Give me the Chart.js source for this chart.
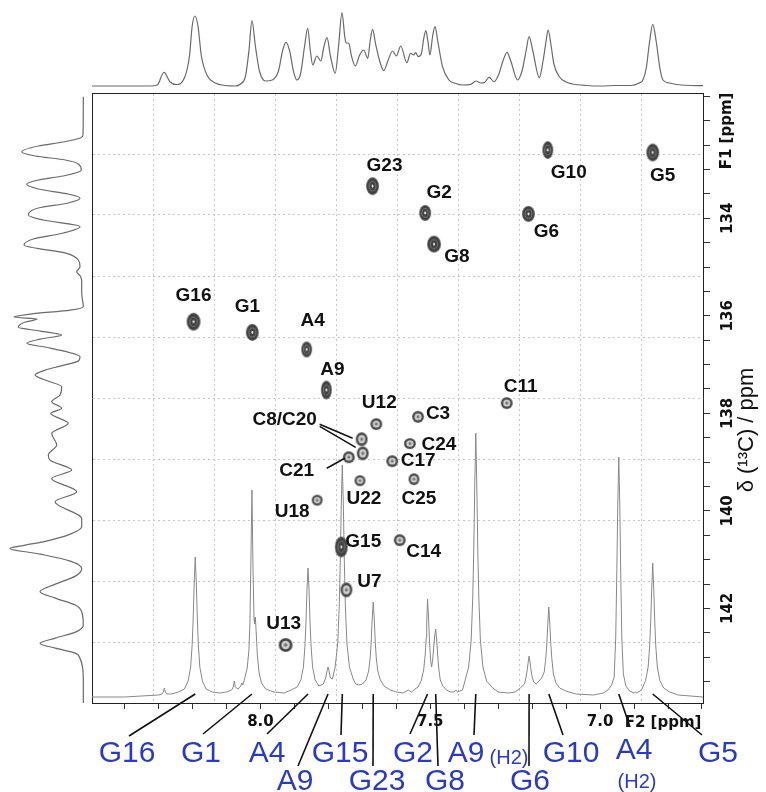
<!DOCTYPE html>
<html>
<head>
<meta charset="utf-8">
<script src="https://cdn.jsdelivr.net/npm/chart.js@4.4.1/dist/chart.umd.min.js"></script>
<style>
  html, body { margin: 0; padding: 0; background: #fff; }
  #wrap { position: relative; width: 766px; height: 792px; overflow: hidden; }
  canvas { position: absolute; }
  #main { left: 0; top: 0; }
  #top { left: 92px; top: 1px; }
  #side { left: 0; top: 93px; }
</style>
</head>
<body>
<div id="wrap">
  <canvas id="main" width="766" height="792"></canvas>
  <canvas id="top" width="611" height="86"></canvas>
  <canvas id="side" width="92" height="610"></canvas>
</div>
<script>
// Axis ranges: F2 = 1H (ppm), F1 = 13C (ppm)
const H_MIN = 6.697, H_MAX = 8.496;
const C_MIN = 131.43, C_MAX = 143.94;

// Tick labels
const xLabelTicks = [8.0, 7.5, 7.0];
const yLabelTicks = [134, 136, 138, 140, 142];

// HSQC cross peaks: assignment, 1H shift, 13C shift
const peakNames = ['G10','G5','G23','G2','G6','G8','G16','G1','A4','A9','C11','C3','U12','C8','C20','C21','C24','C17','C25','U22','U18','C14','G15','U7','U13'];
const peakH = [7.154,6.845,7.670,7.515,7.211,7.489,8.197,8.024,7.864,7.806,7.275,7.536,7.659,7.702,7.699,7.740,7.560,7.612,7.548,7.707,7.833,7.590,7.762,7.747,7.926];
const peakC = [132.60,132.65,133.34,133.89,133.91,134.53,136.12,136.34,136.69,137.52,137.79,138.07,138.22,138.53,138.82,138.90,138.62,138.98,139.35,139.38,139.78,140.60,140.74,141.62,142.75];

// 1D 1H spectrum [ppm, intensity]
const specPoints = [
[8.496,1],[8.40,1],[8.30,3],[8.29,4],[8.286,6],[8.283,10],[8.280,6],[8.276,4],[8.262,4],
[8.242,6],[8.224,9],[8.213,17],[8.2055,31],[8.201,54],[8.198,81],[8.195,116],[8.192,141],[8.189,116],[8.186,81],[8.183,54],[8.1785,31],[8.171,17],[8.160,9],[8.142,6],[8.12,5],
[8.10,6],[8.085,8],[8.080,11],[8.077,17],[8.074,11],[8.066,9],[8.058,12],[8.055,15],[8.052,13],[8.046,20],[8.039,30],[8.034,48],[8.031,75],[8.028,140],[8.025,208],
[8.022,130],[8.019,80],[8.017,74],[8.015,81],[8.012,62],[8.009,42],[8.004,25],[7.997,15],[7.985,9],[7.96,6],[7.93,5],
[7.910,8],[7.892,11],[7.881,18],[7.8735,31],[7.869,52],[7.866,76],[7.863,109],[7.860,130],[7.857,109],[7.854,76],[7.851,52],[7.8465,31],[7.839,18],[7.828,12],
[7.815,14],[7.808,20],[7.804,27],[7.801,31],[7.798,27],[7.794,20],[7.788,19],
[7.780,31],[7.7725,55],[7.768,92],[7.765,136],[7.762,194],[7.759,233],[7.756,194],[7.753,136],[7.750,92],[7.7455,55],[7.738,31],[7.727,19],[7.72,14],[7.71,13],
[7.700,14],[7.689,18],[7.6815,27],[7.677,40],[7.674,56],[7.671,79],[7.668,96],[7.665,79],[7.662,56],[7.659,40],[7.6545,27],[7.647,18],[7.636,12],[7.618,8],[7.60,6],[7.58,5],[7.565,8],[7.555,6],[7.545,9],[7.536,11],
[7.527,17],[7.5195,28],[7.515,43],[7.512,60],[7.5105,75],[7.508,99],[7.505,80],[7.502,55],[7.499,38],[7.496,31],[7.493,38],[7.490,50],[7.487,62],[7.484,69],[7.481,58],[7.478,42],[7.4745,28],[7.4705,18],[7.463,12],[7.452,8],[7.44,6],[7.43,6],[7.425,8],[7.42,6],[7.405,8],
[7.398,17],[7.387,31],[7.3795,58],[7.375,100],[7.372,147],[7.369,213],[7.366,265],[7.363,213],[7.360,147],[7.357,100],[7.3525,58],[7.345,31],[7.334,17],[7.316,10],[7.30,6],[7.27,5],[7.25,6],[7.235,10],
[7.2225,14],[7.218,21],[7.215,27],[7.212,35],[7.209,42],[7.206,35],[7.203,27],[7.200,21],[7.1955,16],[7.188,14],[7.18,17],
[7.172,20],[7.1645,26],[7.160,39],[7.157,53],[7.154,74],[7.151,91],[7.148,74],[7.145,53],[7.142,39],[7.1375,24],[7.130,15],[7.119,10],[7.101,7],[7.07,4],[7.02,3],[6.99,5],
[6.977,8],[6.966,13],[6.9585,21],[6.954,60],[6.951,120],[6.948,193],[6.945,241],[6.942,193],[6.939,120],[6.936,60],[6.9315,24],[6.924,12],[6.913,7],[6.90,5],[6.896,6],[6.892,5],[6.878,8],
[6.866,17.5],[6.8585,31],[6.854,52],[6.851,76],[6.848,109],[6.845,135],[6.842,109],[6.839,76],[6.836,52],[6.8315,31],[6.824,17.5],[6.813,10],[6.795,6],[6.77,3],[6.697,1]
];

// F2 projection [ppm, intensity]
const topPoints = [
[8.496,0],[8.325,0],[8.304,1],[8.284,13.7],[8.266,4],[8.248,1.5],[8.224,8],[8.209,30],[8.201,60],[8.193,70],[8.184,60],[8.174,30],[8.156,10],[8.133,3],[8.103,0.5],[8.074,0],
[8.059,2],[8.044,10],[8.034,35],[8.025,65.3],[8.015,40],[8.003,15],[7.985,5],[7.965,6],[7.947,15],[7.935,35],[7.925,43.7],[7.914,35],[7.903,15],[7.893,6],
[7.882,12],[7.870,40],[7.861,57.7],[7.853,35],[7.846,21],[7.834,30],[7.822,25],[7.814,38],[7.804,48.3],[7.794,30],[7.780,12.7],[7.770,40],[7.760,73.3],[7.752,50],
[7.748,43.3],[7.740,42.7],[7.732,30],[7.721,20],[7.708,31],[7.696,36],[7.684,27.7],[7.677,45],[7.670,56.7],[7.661,42],[7.649,25],[7.637,15.3],[7.625,25],[7.611,35],
[7.600,30],[7.587,40],[7.569,23.3],[7.558,32.7],[7.549,31],[7.543,33.3],[7.535,29.3],[7.526,32.7],[7.519,48],[7.513,55.3],[7.507,45],[7.501,31],[7.493,50],[7.486,59.3],
[7.478,45],[7.464,19.3],[7.445,6],[7.425,2.5],[7.405,1],[7.381,1.5],[7.366,5],[7.351,3],[7.341,3.3],[7.327,8.7],[7.312,4.3],[7.298,12],[7.286,25],[7.274,33.7],[7.263,25],
[7.243,6],[7.230,15],[7.218,35],[7.209,49.3],[7.198,35],[7.179,8.3],[7.168,25],[7.159,45],[7.153,56],[7.145,42],[7.136,22],[7.120,9.3],[7.100,4],[7.081,2],[7.041,0.5],
[6.997,0],[6.953,0.5],[6.909,0.5],[6.885,3],[6.874,6],[6.864,18],[6.854,45],[6.845,61.7],[6.835,45],[6.824,18],[6.815,6],[6.796,3],[6.761,1],[6.697,0.3]
];

// F1 projection [13C ppm, intensity]
const sidePoints = [
[131.506,0],[132.291,0.3],[132.353,3],[132.435,20],[132.517,45],[132.634,61.6],[132.722,48],[132.804,18],[132.886,5],[133.009,2],
[133.132,20],[133.214,45],[133.303,56.6],[133.399,45],[133.502,15],[133.590,3.3],
[133.686,15],[133.789,45],[133.932,55],[134.035,40],[134.172,3.3],
[134.302,20],[134.425,50],[134.548,59.3],[134.718,16.6],[134.855,5],[134.993,3.3],
[135.095,6.6],[135.184,3],[135.301,1.6],[135.539,1.6],[135.813,0],
[135.881,13],[135.963,53],[136.025,69.3],[136.066,46],[136.127,58],[136.236,65],[136.312,43],[136.394,21.6],[136.476,43],[136.564,56.6],[136.661,33],[136.839,3.3],
[136.927,5],[137.030,23],[137.112,38],[137.214,48.3],[137.317,38],[137.454,21.6],
[137.625,23.3],[137.762,31.6],[137.897,21.6],[138.000,32.6],[138.205,15],[138.410,31.6],[138.650,26.6],[138.855,35],[138.958,33.3],[139.163,11.6],[139.334,31.6],
[139.608,6.6],[139.813,28.3],[140.154,1.6],[140.326,1.6],[140.476,13],[140.634,40],[140.702,58],[140.769,73.3],[140.886,43],[141.030,13],[141.180,1.6],
[141.338,8],[141.502,28],[141.660,43.3],[141.789,28],[141.932,8],[142.070,1.6],[142.343,0],[142.486,8],[142.609,28],[142.718,43.3],[142.814,28],[142.917,8],
[143.025,3.3],[143.436,0],[143.943,0]
];

// Assignments of the 1D peaks shown under the spectrum (1H ppm of each peak)
const assignNames = ['G16','G1','A4','A9','G15','G23','G2','G8','A9(H2)','G6','G10','A4(H2)','G5'];
const assignPpm = [8.192,8.025,7.860,7.801,7.759,7.668,7.508,7.484,7.366,7.209,7.151,6.945,6.845];

// ---- layout / style tables ----
// contour drawing: kind and size (w, h) in px
const contourStyle = {
  G10:['solid',11,18], G5:['solid',13,18], G23:['solid',13,18], G2:['solid',12,16], G6:['solid',13,16],
  G8:['solid',14,17], G16:['solid',14,18], G1:['solid',13,17], A4:['solid',11,16], A9:['solid',11,19],
  G15:['solid',13,21], C11:['ring',12,12], C3:['ring',12,12], U12:['ring',12,12], C8:['ring',12,14],
  C20:['ring',12,14], C21:['ring',12,12], C24:['ring',12,11], C17:['ring',12,12], C25:['ring',11,12],
  U22:['ring',11,11], U18:['ring',11,11], C14:['ring',12,12], U7:['ring',12,15], U13:['ring',14,14]
};
// label offsets from each cross peak (px)
const peakLabels = {
  G10:[21,23], G5:[10,23], G23:[12,-20], G2:[14,-20], G6:[18,18], G8:[23,13], G16:[0,-26], G1:[-5,-26],
  A4:[6,-29], A9:[6,-20], C11:[14,-16], C3:[20,-3], U12:[3,-21], C8:[-77,-19,'C8/C20'], C21:[-52,14],
  C24:[29,1], C17:[26,0], C25:[5,20], U22:[4,18], U18:[-25,12], C14:[24,12], G15:[22,-5], U7:[23,-8], U13:[-2,-21]
};
// pointer lines, relative to a cross peak: [peak, x1, y1, x2, y2]
const pointers = [['C8',-42,-15,-9,-1],['C20',-43,-27,-7,-6],['C21',-22,11,-4,1]];
// bottom assignment labels: line end [x,y], text centre x / baseline y, optional sub-label
const assignLayout = {
  'G16':{end:[129,736],text:[127,762]}, 'G1':{end:[203,734],text:[201,762]},
  'A4':{end:[267,734],text:[267,762]}, 'A9':{end:[298,766],text:[295,790]},
  'G15':{end:[341,735],text:[340,762]}, 'G23':{end:[373,766],text:[377,790]},
  'G2':{end:[410,734],text:[413,762]}, 'G8':{end:[438,766],text:[445,790]},
  'A9(H2)':{end:[474,735],text:[466,762],label:'A9',sub:[509,764]},
  'G6':{end:[529,766],text:[530,790]}, 'G10':{end:[563,735],text:[571,762]},
  'A4(H2)':{end:[630,727],text:[634,759],label:'A4',sub:[637,788]},
  'G5':{end:[702,735],text:[718,762]}
};

function makeContour(kind, w, h) {
  const pad = 2;
  const c = document.createElement('canvas');
  c.width = w + pad * 2; c.height = h + pad * 2;
  const g = c.getContext('2d');
  const cx = c.width / 2, cy = c.height / 2;
  const ell = (rx, ry, fill) => { g.beginPath(); g.ellipse(cx, cy, rx, ry, 0, 0, Math.PI * 2); g.fillStyle = fill; g.fill(); };
  if (kind === 'solid') {
    ell(w / 2, h / 2, '#6e6e6e');
    ell(w / 2 - 0.8, h / 2 - 0.8, '#404040');
    g.beginPath(); g.ellipse(cx, cy, w * 0.27, h * 0.27, 0, 0, Math.PI * 2);
    g.strokeStyle = '#7c7c7c'; g.lineWidth = 1; g.stroke();
    ell(1, 1.4, '#eee');
  } else {
    ell(w / 2, h / 2, '#626262');
    ell(w / 2 - 0.8, h / 2 - 0.8, '#454545');
    ell(w * 0.3, h * 0.3, '#cfcfcf');
    ell(w * 0.12, h * 0.12, '#6e6e6e');
  }
  return c;
}
const contourImgs = peakNames.map(n => makeContour(...contourStyle[n]));

const LABEL_FONT = 'bold 19px "Liberation Sans", Arial, sans-serif';
const ASSIGN_FONT = '30px "Liberation Sans", Arial, sans-serif';
const SUB_FONT = '20px "Liberation Sans", Arial, sans-serif';
const ASSIGN_COLOR = '#2b3bbf';
const AXIS_FONT = { family: 'DejaVu Sans', weight: 'bold', size: 15 };

const annotate = {
  id: 'annotate',
  afterDatasetsDraw(chart) {
    const { ctx } = chart;
    const sx = chart.scales.x, sy = chart.scales.y, ss = chart.scales.ySpec;
    const at = n => { const i = peakNames.indexOf(n); return [sx.getPixelForValue(peakH[i]), sy.getPixelForValue(peakC[i])]; };
    ctx.save();
    // cross-peak labels
    ctx.font = LABEL_FONT; ctx.fillStyle = '#111';
    ctx.textAlign = 'center'; ctx.textBaseline = 'middle';
    peakNames.forEach(n => {
      const l = peakLabels[n]; if (!l) return;
      const [px, py] = at(n);
      ctx.fillText(l[2] || n, px + l[0], py + l[1]);
    });
    ctx.strokeStyle = '#111'; ctx.lineWidth = 1.5;
    pointers.forEach(p => {
      const [px, py] = at(p[0]);
      ctx.beginPath(); ctx.moveTo(px + p[1], py + p[2]); ctx.lineTo(px + p[3], py + p[4]); ctx.stroke();
    });
    // assignments of the 1D peaks
    ctx.lineWidth = 1.6;
    ctx.textBaseline = 'alphabetic';
    assignNames.forEach((n, i) => {
      const lay = assignLayout[n];
      const x0 = sx.getPixelForValue(assignPpm[i]), y0 = ss.getPixelForValue(4);
      ctx.strokeStyle = '#111';
      ctx.beginPath(); ctx.moveTo(x0, y0); ctx.lineTo(lay.end[0], lay.end[1]); ctx.stroke();
      ctx.fillStyle = ASSIGN_COLOR; ctx.font = ASSIGN_FONT; ctx.textAlign = 'center';
      ctx.fillText(lay.label || n, lay.text[0], lay.text[1]);
      if (lay.sub) { ctx.font = SUB_FONT; ctx.fillText('(H2)', lay.sub[0], lay.sub[1]); }
    });
    // axis titles
    ctx.fillStyle = '#111';
    ctx.font = 'bold 15px "DejaVu Sans", sans-serif';
    ctx.textAlign = 'center'; ctx.textBaseline = 'middle';
    ctx.fillText('F2 [ppm]', 663, 723);
    ctx.save(); ctx.translate(727, 131); ctx.rotate(-Math.PI / 2);
    ctx.fillText('F1 [ppm]', 0, 0); ctx.restore();
    ctx.save(); ctx.translate(747, 430); ctx.rotate(-Math.PI / 2);
    ctx.font = '22px "Liberation Sans", Arial, sans-serif';
    ctx.fillText('δ (¹³C) / ppm', 0, 0); ctx.restore();
    ctx.restore();
  }
};

const gridLine = { color: '#c6c6c6', lineWidth: 1, drawTicks: false };
const frame = { display: true, color: '#222', width: 1, dash: [2, 3] };

new Chart(document.getElementById('main'), {
  type: 'scatter',
  data: {
    datasets: [
      {
        type: 'line', label: '1H', order: 2,
        data: specPoints.map(p => ({ x: p[0], y: p[1] })),
        xAxisID: 'x', yAxisID: 'ySpec',
        borderColor: '#888', borderWidth: 1, pointRadius: 0, tension: 0, fill: false
      },
      {
        type: 'scatter', label: 'HSQC', order: 1,
        data: peakNames.map((n, i) => ({ x: peakH[i], y: peakC[i] })),
        xAxisID: 'x', yAxisID: 'y',
        pointRadius: 6, pointStyle: c => contourImgs[c.dataIndex]
      }
    ]
  },
  options: {
    responsive: false, animation: false, devicePixelRatio: 1, events: [],
    layout: { padding: { left: 92, top: 93, right: 0, bottom: 0 }, autoPadding: false },
    plugins: { legend: { display: false }, tooltip: { enabled: false } },
    scales: {
      x: {
        type: 'linear', position: 'bottom', reverse: true, min: H_MIN, max: H_MAX,
        afterFit(s) { s.height = 89; },
        grid: { drawOnChartArea: false, drawTicks: true, tickLength: 6, tickColor: '#333' },
        border: { display: true, color: '#222', width: 1 },
        ticks: {
          stepSize: 0.1, includeBounds: false, autoSkip: false, minRotation: 0, maxRotation: 0, padding: 4,
          color: '#111', font: AXIS_FONT,
          callback: v => { const t = xLabelTicks.find(k => Math.abs(k - v) < 1e-6); return t === undefined ? '' : t.toFixed(1); }
        }
      },
      y: {
        type: 'linear', position: 'right', reverse: true, min: C_MIN, max: C_MAX,
        afterFit(s) { s.width = 63; },
        grid: { drawOnChartArea: false, drawTicks: true, tickLength: 7, tickColor: '#333' },
        border: { display: true, color: '#222', width: 1 },
        ticks: {
          stepSize: 0.5, includeBounds: false, autoSkip: false, minRotation: 90, maxRotation: 90,
          crossAlign: 'center', padding: 2,
          color: '#111', font: AXIS_FONT,
          callback: v => { const t = yLabelTicks.find(k => Math.abs(k - v) < 1e-6); return t === undefined ? '' : String(t); }
        }
      },
      ySpec: { type: 'linear', display: false, min: -5, max: 605 },
      gx: {
        type: 'linear', position: 'top', min: 0, max: 10,
        afterFit(s) { s.height = 0; },
        grid: gridLine, border: frame, ticks: { display: false, stepSize: 1 }
      },
      gy: {
        type: 'linear', position: 'left', min: 0, max: 10,
        afterFit(s) { s.width = 0; },
        grid: gridLine, border: frame, ticks: { display: false, stepSize: 1 }
      }
    }
  },
  plugins: [annotate]
});

// F2 projection above the map
new Chart(document.getElementById('top'), {
  type: 'line',
  data: { datasets: [{
    data: topPoints.map(p => ({ x: p[0], y: p[1] })),
    borderColor: '#6a6a6a', borderWidth: 1.2, pointRadius: 0, cubicInterpolationMode: 'monotone', fill: false
  }] },
  options: {
    responsive: false, animation: false, devicePixelRatio: 1, events: [],
    layout: { padding: 0, autoPadding: false },
    plugins: { legend: { display: false }, tooltip: { enabled: false } },
    scales: {
      x: { type: 'linear', reverse: true, min: H_MIN, max: H_MAX, display: false },
      y: { type: 'linear', min: -1, max: 85, display: false }
    }
  }
});

// F1 projection left of the map
new Chart(document.getElementById('side'), {
  type: 'line',
  data: { datasets: [{
    data: sidePoints.map(p => ({ x: p[1], y: p[0] })),
    borderColor: '#6a6a6a', borderWidth: 1.2, pointRadius: 0, cubicInterpolationMode: 'monotone', fill: false
  }] },
  options: {
    indexAxis: 'y',
    responsive: false, animation: false, devicePixelRatio: 1, events: [],
    layout: { padding: 0, autoPadding: false },
    plugins: { legend: { display: false }, tooltip: { enabled: false } },
    scales: {
      x: { type: 'linear', reverse: true, min: -8.7, max: 83.3, display: false },
      y: { type: 'linear', reverse: true, min: C_MIN, max: C_MAX, display: false }
    }
  }
});
</script>
</body>
</html>
